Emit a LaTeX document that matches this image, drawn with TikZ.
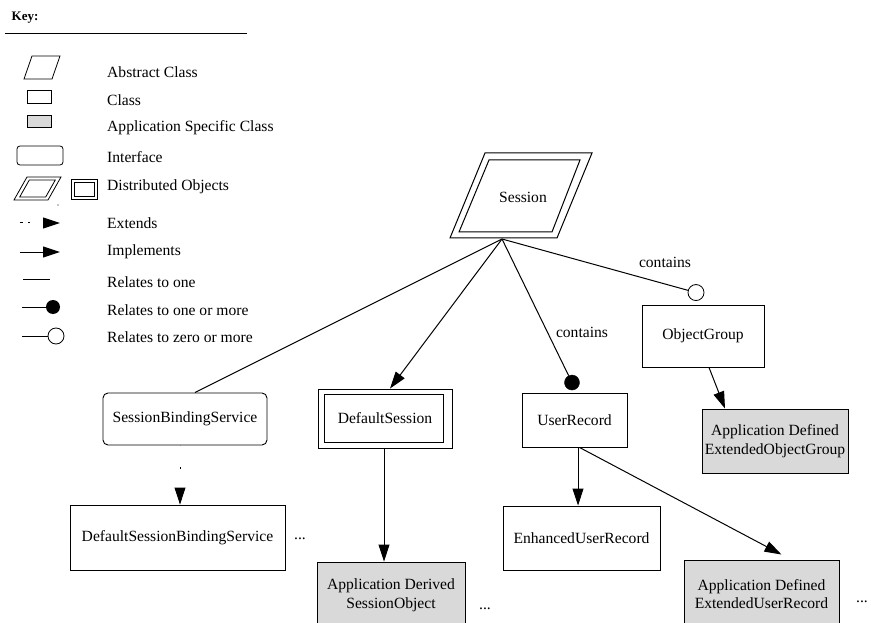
\documentclass[tikz,border=0pt]{standalone}
\usepackage{fontspec}
\setmainfont{Liberation Serif}
\usetikzlibrary{arrows.meta,calc}
\begin{document}
\begin{tikzpicture}[x=1pt,y=-1pt,
  txt/.style={font=\fontsize{15.6}{18.5}\selectfont, inner sep=0pt, align=center},
  lbl/.style={txt, anchor=west},
  box/.style={draw, line width=0.9pt, inner sep=0pt, align=center, font=\fontsize{15.6}{18.5}\selectfont},
  appbox/.style={box, fill=black!15},
  iface/.style={box, rounded corners=5pt},
  shp/.style={draw, line width=0.8pt},
  conn/.style={line width=1pt},
  impl/.style={conn, -{Triangle[length=17pt,width=11pt]}},
  ext/.style={impl, dash pattern=on 0.01pt off 22pt on 1.5pt off 60pt},
  extlg/.style={impl, dash pattern=on 3pt off 5pt on 2pt off 40pt},
  onedot/.style={circle, fill=black, draw, inner sep=0pt, minimum size=15pt},
  zerodot/.style={circle, fill=white, draw, line width=0.8pt, inner sep=0pt, minimum size=16pt}]
\useasboundingbox (0,0) rectangle (871,623);

% ---------- Key ----------
\node[font=\bfseries\fontsize{13}{15}\selectfont, inner sep=0pt] (key) at (25,18) {Key:};
\draw[line width=0.9pt] (5,33) -- (247,33);

\draw[shp] (32,56) -- (60,56) -- (52,79) -- (24,79) -- cycle;
\draw[shp] (27,90) rectangle (51,103);
\draw[shp, fill=black!15] (27,115) rectangle (51,127);
\draw[shp, rounded corners=3pt] (17,146) rectangle (63,165);
\draw[shp] (27,177) -- (61,177) -- (48,200) -- (14,200) -- cycle;
\draw[shp] (29.3,180) -- (55.3,180) -- (45.7,197) -- (19.7,197) -- cycle;
\fill (58,205) circle (0.7);
\draw[shp] (71,179) rectangle (97,199);
\draw[shp] (74,182) rectangle (94,196);
\draw[extlg] (20,223) -- (60,223);
\draw[impl] (20,252) -- (60,252);
\draw[conn] (23,279) -- (50,279);
\draw[conn] (22,307) -- (47,307);
\fill (53,307) circle (7);
\draw[conn] (22,336) -- (48,336);
\draw[line width=0.8pt, fill=white] (56,336) circle (8);

\node[lbl] (l1) at (107,72) {Abstract Class};
\node[lbl] (l2) at (107,100) {Class};
\node[lbl] (l3) at (107,128) {Application Specific Class};
\node[lbl] (l4) at (107,157) {Interface};
\node[lbl] (l5) at (107,187) {Distributed Objects};
\node[lbl] (l6) at (107,223) {Extends};
\node[lbl] (l7) at (107,252) {Implements};
\node[lbl] (l8) at (107,282) {Relates to one};
\node[lbl] (l9) at (107,310) {Relates to one or more};
\node[lbl] (l10) at (107,337) {Relates to zero or more};

% ---------- Diagram ----------
\node[txt] (session) at (523,197) {Session};
\draw[line width=1pt] (485,153) -- (592,153) -- (557,238) -- (450,238) -- cycle;
\draw[line width=1pt] (489,160) -- (580,160) -- (552,232) -- (459,232) -- cycle;
\coordinate (fan) at (502,239);

\node[iface, minimum width=164, minimum height=52] (sbs) at (185,419) {SessionBindingService};
\node[box, minimum width=134, minimum height=59] (ds) at (385,418.5) {DefaultSession};
\draw[line width=0.9pt] ($(ds.north west)+(7,6)$) rectangle ($(ds.south east)+(-9,-6)$);
\node[box, minimum width=105, minimum height=54] (ur) at (574.5,420) {UserRecord};
\node[box, minimum width=122, minimum height=62] (og) at (703,336) {ObjectGroup};
\node[box, minimum width=215, minimum height=65] (dsbs) at (177.5,537.5) {DefaultSessionBindingService};
\node[appbox, minimum width=148, minimum height=66] (adso) at (391,595) {Application Derived\\SessionObject};
\node[appbox, minimum width=155, minimum height=68] (aeur) at (761.5,594) {Application Defined\\ExtendedUserRecord};
\node[appbox, minimum width=146, minimum height=64] (aeog) at (775,441) {Application Defined\\ExtendedObjectGroup};
\node[box, minimum width=157, minimum height=64] (eur) at (581.5,538) {EnhancedUserRecord};

\node[onedot] (urdot) at ($(ur.north)+(-2.5,-10)$) {};
\node[zerodot] (ogdot) at ($(og.north)+(-7,-12)$) {};

\draw[conn] (fan) -- ($(sbs.north)+(10,0)$);
\draw[impl] (fan) -- ($(ds.north)+(5,0)$);
\draw[conn] (fan) -- (urdot);
\draw[conn] (fan) -- (ogdot);
\draw[impl] ($(og.south)+(6,0)$) -- ($(aeog.north)+(-50,0)$);
\draw[impl] ($(ds.south)+(-1,0)$) -- ($(adso.north)+(-7,0)$);
\draw[ext] ($(sbs.south)+(-5,0)$) -- ($(dsbs.north)+(2.5,0)$);
\draw[impl] ($(ur.south)+(3.5,0)$) -- ($(eur.north)+(-3.5,0)$);
\draw[impl] ($(ur.south)+(5,0)$) -- ($(aeur.north)+(20,-5)$);

\node[txt] (c1) at (582,332) {contains};
\node[txt] (c2) at (665,262) {contains};
\node[txt] (e1) at (300,539) {...};
\node[txt] (e2) at (485,609) {...};
\node[txt] (e3) at (862,602) {...};
\end{tikzpicture}
\end{document}
